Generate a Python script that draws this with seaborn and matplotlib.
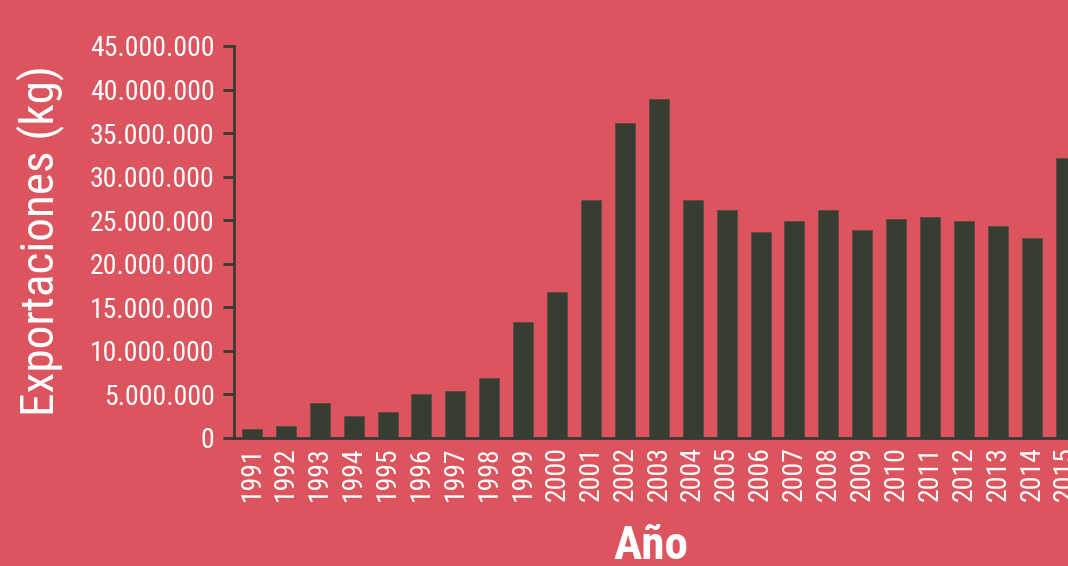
import pandas as pd
import numpy as np
import matplotlib
matplotlib.use("Agg")
import matplotlib.pyplot as plt
import seaborn as sns
from matplotlib import font_manager
from matplotlib.ticker import FuncFormatter

# ── Data ─────────────────────────────────────────────────────
years = [str(y) for y in range(1991, 2016)]
exports_mkg = [1.0, 1.4, 4.0, 2.5, 3.0, 5.1, 5.4, 6.9, 13.3, 16.8,
               27.3, 36.2, 38.9, 27.3, 26.2, 23.6, 24.9, 26.2, 23.9, 25.1,
               25.4, 24.9, 24.3, 23.0, 32.1]
y_ticks = list(range(0, 45_000_001, 5_000_000))

df = pd.DataFrame({"Año": years, "kg": [v * 1e6 for v in exports_mkg]})

# ── Style ────────────────────────────────────────────────────
bg = "#DC555E"
bar_col = "#383D32"
axis_col = "#3A3A33"

sns.set_style("ticks")
installed = {f.name for f in font_manager.fontManager.ttflist}
fam = next((f for f in ["Roboto Condensed", "Liberation Sans Narrow", "Archivo Narrow",
                        "Barlow Semi Condensed"] if f in installed), "DejaVu Sans")
plt.rcParams["font.family"] = [fam, "DejaVu Sans"]

fig = plt.figure(figsize=(10.68, 5.66), dpi=100, facecolor=bg)
ax = fig.add_axes([234 / 1068, 128 / 566, 852 / 1068, 392 / 566])
ax.set_facecolor(bg)

sns.barplot(data=df, x="Año", y="kg", color=bar_col, saturation=1,
            width=0.59, edgecolor="#5a4a45", linewidth=0.6, ax=ax)

ax.set_xlim(-0.53, 24.6)
ax.set_ylim(0, 45_000_000)
ax.set_yticks(y_ticks)
ax.yaxis.set_major_formatter(FuncFormatter(lambda v, p: f"{int(v):,}".replace(",", ".")))

for s in ["top", "right"]:
    ax.spines[s].set_visible(False)
for s in ["left", "bottom"]:
    ax.spines[s].set_color(axis_col)
    ax.spines[s].set_linewidth(2)

ax.tick_params(axis="y", length=8, width=2, color=axis_col, labelcolor="white",
               labelsize=20, pad=6)
ax.tick_params(axis="x", length=0, labelcolor="white", labelsize=20, pad=6,
               labelrotation=90)

ax.set_xlabel("")
ax.set_ylabel("")
fig.text(40 / 1068, 1 - 240 / 566, "Exportaciones (kg)", rotation=90, color="white",
         fontsize=34, ha="center", va="center")
fig.text(651 / 1068, 1 - 546 / 566, "Año", color="white", fontsize=34,
         fontweight="semibold", ha="center", va="center")

fig.savefig("out.png", dpi=100, facecolor=bg)
